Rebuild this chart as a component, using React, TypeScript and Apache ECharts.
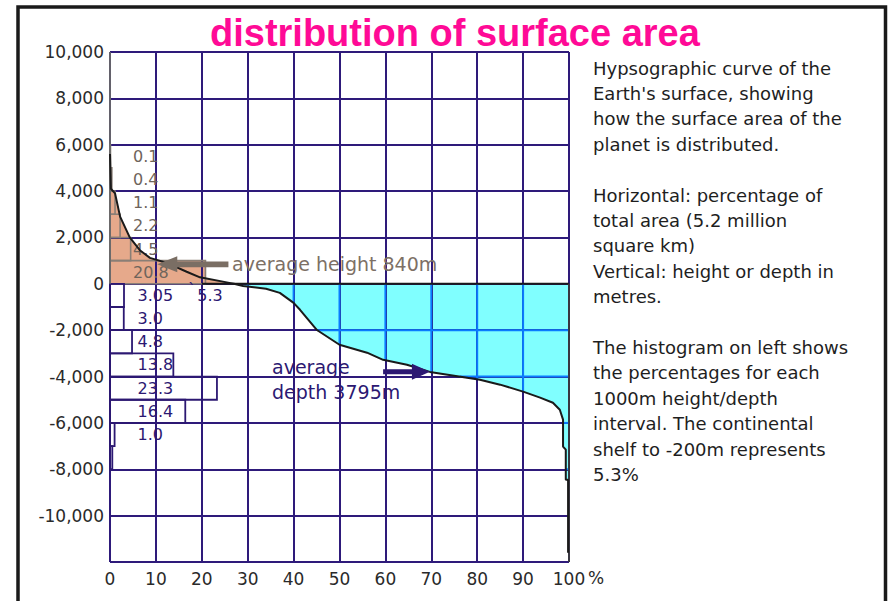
import { useEffect, useRef } from 'react';
import * as echarts from 'echarts';

// ---------- data ----------
const xGridPct = [0, 10, 20, 30, 40, 50, 60, 70, 80, 90, 100];
const blueRowElev = [-2000, -4000, -6000, -8000];

// histogram above sea level (lower bound of each 1000 m band)
const landBandLow = [5000, 4000, 3000, 2000, 1000, 0];
const landBandPct = [0.1, 0.4, 1.1, 2.2, 4.5, 20.8];
const landBandLabel = ['0.1', '0.4', '1.1', '2.2', '4.5', '20.8'];

// histogram below sea level (upper bound of each 1000 m band)
const seaBandHigh = [0, -1000, -2000, -3000, -4000, -5000, -6000, -7000];
const seaBandPct = [3.05, 3.0, 4.8, 13.8, 23.3, 16.4, 1.0, 0.5];
const seaBandLabel = ['3.05', '3.0', '4.8', '13.8', '23.3', '16.4', '1.0', ''];
const BAND = 1000;

// hypsographic curve: cumulative % of area vs elevation (m)
const curvePct = [0, 0.2, 1.1, 2.2, 4.3, 6.5, 8.7, 12.4, 16.7, 19.6, 26, 27, 29, 34, 37, 40, 41.4, 45, 50, 56, 59.5, 64.7, 69.7, 77.8, 80.6, 85, 90, 93.7, 96.5, 98, 98.7, 98.7, 99.3, 99.3, 99.8, 99.8];
const curveElev = [5600, 4100, 3900, 2900, 2000, 1450, 1120, 900, 520, 280, 40, 0, -90, -215, -390, -820, -1120, -1980, -2630, -2970, -3280, -3490, -3800, -4050, -4140, -4350, -4650, -4910, -5130, -5430, -5860, -7020, -7150, -8450, -8450, -11600];

const avgHeight = 840;
const avgDepth = -3795;
const shelfPct = '5.3';

const titleText = 'distribution of surface area';
const descLines = [
  'Hypsographic curve of the',
  "Earth's surface, showing",
  'how the surface area of the',
  'planet is distributed.',
  '',
  'Horizontal: percentage of',
  'total area (5.2 million',
  'square km)',
  'Vertical: height or depth in',
  'metres.',
  '',
  'The histogram on left shows',
  'the percentages for each',
  '1000m height/depth',
  'interval. The continental',
  'shelf to -200m represents',
  '5.3%',
];

// ---------- helpers ----------
const seaStart = curveElev.indexOf(0);
const curvePairs = curvePct.map((x, i) => [x, curveElev[i]]);
const landPairs = curvePairs.slice(0, seaStart + 1);
const seaPairs = curvePairs.slice(seaStart);

function curveAt(x: number): number {
  for (let i = 0; i < curvePct.length - 1; i++) {
    const a = curvePct[i], b = curvePct[i + 1];
    if (x >= a && x <= b && b > a) {
      return curveElev[i] + ((x - a) / (b - a)) * (curveElev[i + 1] - curveElev[i]);
    }
  }
  return 0;
}
function crossAt(y: number): number | null {
  for (let i = seaStart; i < curveElev.length - 1; i++) {
    const a = curveElev[i], b = curveElev[i + 1];
    if (a >= y && b <= y && a !== b) {
      return curvePct[i] + ((a - y) / (a - b)) * (curvePct[i + 1] - curvePct[i]);
    }
  }
  return null;
}

const blueSegments: number[][] = [];
xGridPct.forEach((x) => {
  if (x > 0 && x < 100) {
    const v = curveAt(x);
    if (v < 0) blueSegments.push([x, 0, x, v]);
  }
});
blueRowElev.forEach((y) => {
  const cx = crossAt(y);
  if (cx !== null) blueSegments.push([cx, y, 100, y]);
});

const GRID = '#2e1a7a';
const SALMON = '#e6a98b';
const LANDLINE = '#8a7f76';
const LANDTEXT = '#6e645b';
const PURPLE = '#2c1872';
const FONT = 'DejaVu Sans';

function arrow(tip: number[], tail: number[], L: number, H: number, h: number) {
  const d = tail[0] > tip[0] ? 1 : -1;
  const tx = tip[0], ty = tip[1], sx = tail[0];
  return [
    [tx, ty],
    [tx + d * L, ty - H],
    [tx + d * L, ty - h],
    [sx, ty - h],
    [sx, ty + h],
    [tx + d * L, ty + h],
    [tx + d * L, ty + H],
  ];
}

export default function App() {
  const ref = useRef<HTMLDivElement>(null);
  useEffect(() => {
    if (!ref.current) return;
    const chart = echarts.init(ref.current, null, { renderer: 'svg' });

    const descGraphics = descLines
      .map((t, i) => ({ t, i }))
      .filter((o) => o.t !== '')
      .map((o) => ({
        type: 'text',
        x: 593,
        y: 68 + o.i * 25.4,
        style: {
          text: o.t,
          fill: '#1e1e1e',
          fontSize: 18,
          fontFamily: FONT,
          align: 'left',
          verticalAlign: 'middle',
        },
        z: 10,
      }));

    chart.setOption({
      animation: false,
      backgroundColor: '#ffffff',
      title: {
        text: titleText,
        left: 205,
        top: 9,
        textStyle: {
          color: '#ff0a96',
          fontSize: 38,
          fontWeight: 'bold',
          fontFamily: 'Liberation Sans',
        },
      },
      grid: { left: 110, right: 320, top: 52, bottom: 39, containLabel: false },
      xAxis: {
        type: 'value',
        min: 0,
        max: 100,
        interval: 10,
        z: 3,
        axisLine: { show: false },
        axisTick: { show: false },
        axisLabel: { fontSize: 17, fontFamily: FONT, color: '#2a2a2a', margin: 8 },
        splitLine: { lineStyle: { color: GRID, width: 2 } },
      },
      yAxis: {
        type: 'value',
        min: -12000,
        max: 10000,
        interval: 2000,
        z: 3,
        axisLine: { show: false },
        axisTick: { show: false },
        axisLabel: {
          fontSize: 17,
          fontFamily: FONT,
          color: '#2a2a2a',
          margin: 6,
          formatter: (v: number) => (v === -12000 ? '' : v.toLocaleString('en-US')),
        },
        splitLine: { lineStyle: { color: GRID, width: 2 } },
      },
      graphic: [
        {
          type: 'rect',
          shape: { x: 18, y: 7, width: 867.5, height: 620 },
          style: { fill: 'none', stroke: '#1a1a1a', lineWidth: 3.5 },
          z: 10,
        },
        {
          type: 'text',
          x: 588,
          y: 578,
          style: { text: '%', fill: '#2a2a2a', fontSize: 17, fontFamily: FONT, verticalAlign: 'middle' },
          z: 10,
        },
        ...descGraphics,
      ],
      series: [
        {
          name: 'land area',
          type: 'line',
          data: landPairs,
          showSymbol: false,
          z: 1,
          lineStyle: { width: 0, opacity: 0 },
          areaStyle: { color: SALMON, opacity: 1 },
        },
        {
          name: 'ocean area',
          type: 'line',
          data: seaPairs,
          showSymbol: false,
          z: 1,
          lineStyle: { width: 0, opacity: 0 },
          areaStyle: { color: '#80ffff', opacity: 1 },
        },
        {
          name: 'land histogram fill',
          type: 'custom',
          z: 1,
          data: landBandPct.map((p, i) => [p, landBandLow[i], landBandLow[i] + BAND]),
          renderItem: (params: any, api: any) => {
            const p0 = api.coord([0, api.value(2)]);
            const p1 = api.coord([api.value(0), api.value(1)]);
            return {
              type: 'rect',
              shape: { x: p0[0], y: p0[1], width: p1[0] - p0[0], height: p1[1] - p0[1] },
              style: { fill: SALMON, stroke: 'none' },
            };
          },
        },
        {
          name: 'cyan grid',
          type: 'custom',
          z: 4,
          data: blueSegments,
          renderItem: (params: any, api: any) => {
            const a = api.coord([api.value(0), api.value(1)]);
            const b = api.coord([api.value(2), api.value(3)]);
            return {
              type: 'line',
              shape: { x1: a[0], y1: a[1], x2: b[0], y2: b[1] },
              style: { stroke: '#0a7cff', lineWidth: 2 },
            };
          },
        },
        {
          name: 'land histogram',
          type: 'custom',
          z: 5,
          data: landBandPct.map((p, i) => [p, landBandLow[i], landBandLow[i] + BAND]),
          renderItem: (params: any, api: any) => {
            const lo = api.value(1), hi = api.value(2);
            const p0 = api.coord([0, hi]);
            const p1 = api.coord([api.value(0), lo]);
            const lab = api.coord([5, (lo + hi) / 2]);
            return {
              type: 'group',
              children: [
                {
                  type: 'rect',
                  shape: { x: p0[0], y: p0[1], width: p1[0] - p0[0], height: p1[1] - p0[1] },
                  style: { fill: 'none', stroke: LANDLINE, lineWidth: 1.6 },
                },
                {
                  type: 'text',
                  x: lab[0],
                  y: lab[1],
                  style: {
                    text: landBandLabel[params.dataIndex],
                    fill: LANDTEXT,
                    fontSize: 16,
                    fontFamily: FONT,
                    align: 'left',
                    verticalAlign: 'middle',
                  },
                },
              ],
            };
          },
        },
        {
          name: 'ocean histogram',
          type: 'custom',
          z: 5,
          data: seaBandPct.map((p, i) => [p, seaBandHigh[i] - BAND, seaBandHigh[i]]),
          renderItem: (params: any, api: any) => {
            const lo = api.value(1), hi = api.value(2);
            const p0 = api.coord([0, hi]);
            const p1 = api.coord([api.value(0), lo]);
            const lab = api.coord([6, (lo + hi) / 2]);
            return {
              type: 'group',
              children: [
                {
                  type: 'rect',
                  shape: { x: p0[0], y: p0[1], width: p1[0] - p0[0], height: p1[1] - p0[1] },
                  style: { fill: 'none', stroke: PURPLE, lineWidth: 1.8 },
                },
                {
                  type: 'text',
                  x: lab[0],
                  y: lab[1],
                  style: {
                    text: seaBandLabel[params.dataIndex],
                    fill: PURPLE,
                    fontSize: 16,
                    fontFamily: FONT,
                    align: 'left',
                    verticalAlign: 'middle',
                  },
                },
              ],
            };
          },
        },
        {
          name: 'left border',
          type: 'line',
          data: [[0, 0], [0, 10000]],
          showSymbol: false,
          z: 5,
          lineStyle: { color: '#6a6a6a', width: 1.8 },
        },
        {
          name: 'sea level',
          type: 'line',
          data: [[20, 0], [100, 0]],
          showSymbol: false,
          z: 6,
          lineStyle: { color: '#1a1a1a', width: 2 },
        },
        {
          name: 'right border',
          type: 'line',
          data: [[100, 0], [100, -12000]],
          showSymbol: false,
          z: 6,
          lineStyle: { color: '#3a3a3a', width: 1.8 },
        },
        {
          name: 'hypsographic curve',
          type: 'line',
          data: curvePairs,
          showSymbol: false,
          z: 7,
          lineStyle: { color: '#1a1a1a', width: 2 },
        },
        {
          name: 'annotations',
          type: 'custom',
          z: 8,
          data: [[0, 0]],
          renderItem: (params: any, api: any) => {
            const hTip = api.coord([10.3, avgHeight]);
            const hTail = api.coord([25.8, avgHeight]);
            const hText = api.coord([26.6, avgHeight]);
            const dTip = api.coord([69.7, avgDepth]);
            const dTail = api.coord([59.5, avgDepth]);
            const dText1 = api.coord([35.3, -3580]);
            const dText2 = api.coord([35.3, -4650]);
            const sTick = api.coord([17, -230]);
            const sText = api.coord([19, -520]);
            const txt = (p: number[], text: string, fill: string, size: number) => ({
              type: 'text',
              x: p[0],
              y: p[1],
              style: { text, fill, fontSize: size, fontFamily: FONT, align: 'left', verticalAlign: 'middle' },
            });
            return {
              type: 'group',
              children: [
                {
                  type: 'polygon',
                  shape: { points: arrow(hTip, hTail, 20, 8, 2.8) },
                  style: { fill: '#7a6e64' },
                },
                txt(hText, 'average height 840m', '#7d7065', 19),
                {
                  type: 'polygon',
                  shape: { points: arrow(dTip, dTail, 18, 8, 2.5) },
                  style: { fill: PURPLE },
                },
                txt(dText1, 'average', PURPLE, 19),
                txt(dText2, 'depth 3795m', PURPLE, 19),
                txt(sTick, '`', PURPLE, 16),
                txt(sText, shelfPct, PURPLE, 16),
              ],
            };
          },
        },
      ],
    });
    return () => chart.dispose();
  }, []);
  return (
    <div
      ref={ref}
      style={{ position: 'fixed', left: 0, top: 0, width: 889, height: 601, background: '#fff' }}
    />
  );
}
